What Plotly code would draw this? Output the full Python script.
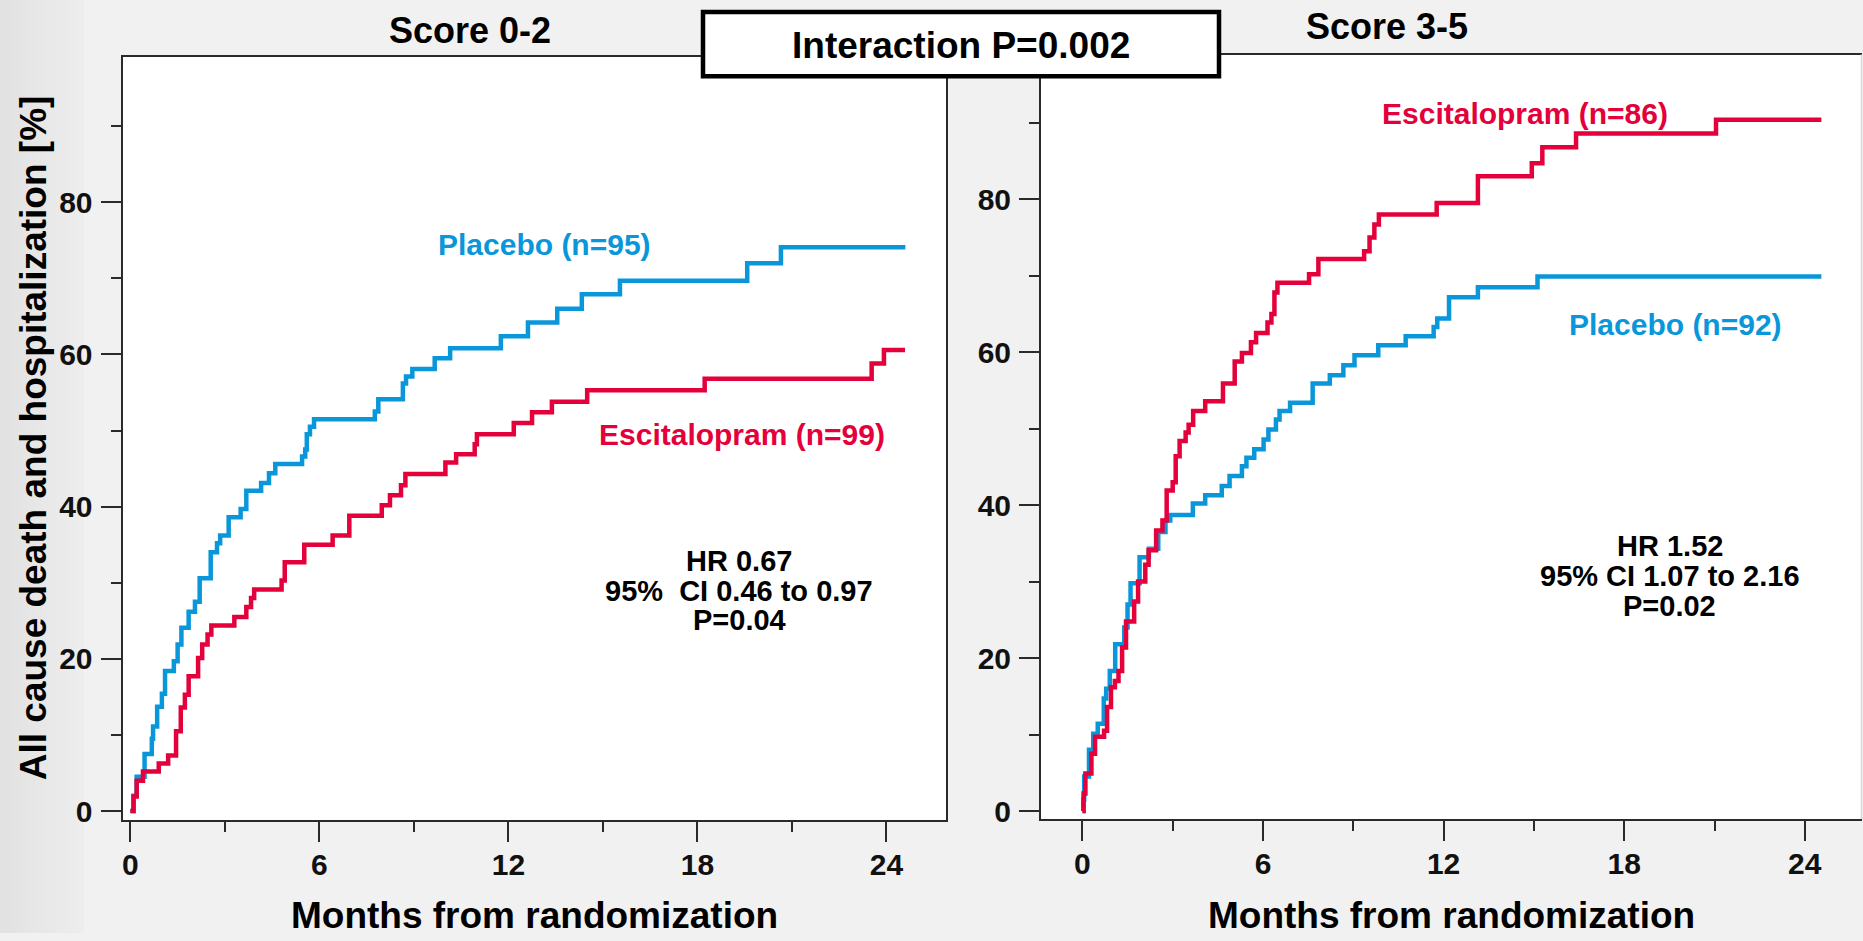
import plotly.graph_objects as go

W, H = 1863, 941

# ---- Kaplan-Meier step data (months, cumulative %) ----
# Score 0-2
s02_placebo_t = [0.1, 0.2, 0.45, 0.68, 0.72, 0.85, 1.0, 1.1, 1.38, 1.5, 1.62, 1.85, 2.05, 2.2,
                 2.55, 2.75, 2.85, 3.12, 3.5, 3.68, 4.15, 4.4, 4.6, 5.45, 5.55, 5.6, 5.7, 5.83,
                 7.76, 7.87, 8.65, 8.75, 8.95, 9.66, 10.15, 11.76, 12.62, 13.55, 14.33, 15.54,
                 19.58, 20.65]
s02_placebo_v = [2.0, 4.5, 7.5, 9.5, 11.1, 13.7, 15.4, 18.4, 19.7, 21.9, 24.1, 26.2, 27.5, 30.6,
                 34.0, 35.2, 36.2, 38.6, 39.7, 42.1, 43.1, 44.4, 45.6, 46.6, 47.5, 49.5, 50.5, 51.5,
                 52.5, 54.1, 56.2, 57.1, 58.1, 59.5, 60.8, 62.4, 64.2, 66.0, 67.9, 69.7,
                 72.0, 74.1]
s02_placebo_end = 24.6

s02_escit_t = [0.1, 0.2, 0.4, 0.9, 1.2, 1.45, 1.6, 1.73, 1.85, 2.15, 2.28, 2.45, 2.57, 3.3,
               3.68, 3.83, 3.93, 4.8, 4.9, 5.52, 6.42, 6.95, 7.98, 8.24, 8.59, 8.73, 10.0,
               10.34, 10.93, 11.0, 12.17, 12.75, 13.38, 14.5, 18.23, 23.53, 23.92]
s02_escit_v = [1.9, 4.0, 5.2, 6.25, 7.3, 10.5, 13.6, 15.3, 17.7, 20.1, 21.9, 23.2, 24.4, 25.5,
               26.8, 28.0, 29.1, 30.3, 32.7, 35.0, 36.2, 38.8, 40.2, 41.5, 42.8, 44.3, 45.8,
               46.9, 48.2, 49.5, 51.0, 52.4, 53.8, 55.3, 56.8, 58.8, 60.6]
s02_escit_end = 24.59

# Score 3-5
s35_placebo_t = [0.03, 0.06, 0.22, 0.36, 0.51, 0.71, 0.79, 0.91, 1.09, 1.39, 1.5, 1.6, 1.9, 2.21,
                 2.52, 2.76, 2.92, 3.67, 4.08, 4.63, 4.89, 5.3, 5.45, 5.71, 6.02, 6.18, 6.43, 6.55,
                 6.9, 7.65, 8.22, 8.67, 9.04, 9.83, 10.74, 11.67, 11.79, 12.18, 13.14, 15.12]
s35_placebo_v = [1.5, 4.5, 8.0, 10.1, 11.4, 14.7, 16.0, 18.3, 21.8, 24.0, 27.0, 29.8, 33.2, 34.3,
                 36.5, 38.0, 38.7, 40.2, 41.3, 42.5, 43.8, 45.1, 46.2, 47.3, 48.6, 49.9, 51.2, 52.3,
                 53.4, 55.9, 57.0, 58.3, 59.6, 60.9, 62.1, 63.3, 64.4, 67.2, 68.5, 69.9]
s35_placebo_end = 24.55

s35_escit_t = [0.04, 0.1, 0.3, 0.42, 0.72, 0.82, 0.95, 1.08, 1.2, 1.32, 1.45, 1.72, 1.85, 2.09,
               2.2, 2.45, 2.66, 2.8, 3.0, 3.1, 3.23, 3.43, 3.53, 3.68, 4.08, 4.67, 5.06, 5.3,
               5.6, 5.77, 6.15, 6.28, 6.38, 6.48, 7.53, 7.84, 9.36, 9.54, 9.7, 9.85, 11.77,
               13.14, 14.93, 15.28, 16.4, 21.05]
s35_escit_v = [2.3, 4.9, 7.5, 9.7, 10.5, 13.6, 16.2, 17.0, 18.3, 21.4, 24.8, 27.4, 30.0, 32.2,
               34.1, 36.7, 38.0, 41.9, 43.0, 46.4, 48.4, 49.5, 50.5, 52.3, 53.6, 55.9, 58.8, 59.9,
               61.3, 62.5, 63.9, 65.0, 67.8, 69.1, 70.2, 72.2, 73.2, 75.0, 76.7, 78.0, 79.5,
               83.0, 84.7, 86.8, 88.6, 90.4]
s35_escit_end = 24.55

panel_titles = ["Score 0-2", "Score 3-5"]
x_ticks = [0, 6, 12, 18, 24]
y_ticks = [0, 20, 40, 60, 80]
x_title = "Months from randomization"
y_title = "All cause death and hospitalization [%]"
interaction_text = "Interaction P=0.002"
hr_left = ["HR 0.67", "95%  CI 0.46 to 0.97", "P=0.04"]
hr_right = ["HR 1.52", "95% CI 1.07 to 2.16", "P=0.02"]

BLUE = "#0a97d9"
RED = "#e3003b"
FONT = "Liberation Sans, Arial, sans-serif"
AXIS = "#2a2a2a"


def px_x(p):
    return p / W


def px_y(p):
    return 1 - p / H


def km(times, values, end):
    xs = [0] + list(times) + [end]
    ys = [0] + list(values) + [values[-1]]
    return xs, ys


fig = go.Figure()

curves = [
    (s02_placebo_t, s02_placebo_v, s02_placebo_end, BLUE, "x", "y"),
    (s02_escit_t, s02_escit_v, s02_escit_end, RED, "x", "y"),
    (s35_placebo_t, s35_placebo_v, s35_placebo_end, BLUE, "x2", "y2"),
    (s35_escit_t, s35_escit_v, s35_escit_end, RED, "x2", "y2"),
]
for t, v, e, col, xa, ya in curves:
    xs, ys = km(t, v, e)
    fig.add_trace(go.Scatter(x=xs, y=ys, mode="lines", line=dict(color=col, width=4.5, shape="hv"),
                             xaxis=xa, yaxis=ya, showlegend=False, hoverinfo="skip"))

tickfont = dict(family=FONT, size=30, color="#111", weight="bold")


def xaxis(domain, rng, anchor, mirror):
    return dict(domain=domain, range=rng, anchor=anchor, tickmode="array", tickvals=x_ticks,
                ticks="outside", ticklen=20, tickwidth=2, tickcolor=AXIS, tickfont=tickfont,
                showline=True, linecolor=AXIS, linewidth=2, mirror=mirror, showgrid=False,
                zeroline=False, ticklabelstandoff=-3,
                minor=dict(tickmode="linear", tick0=0, dtick=3, ticks="outside", ticklen=10,
                           tickwidth=2, tickcolor=AXIS, showgrid=False))


def yaxis(domain, rng, anchor, mirror):
    return dict(domain=domain, range=rng, anchor=anchor, tickmode="array", tickvals=y_ticks,
                ticks="outside", ticklen=20, tickwidth=2, tickcolor=AXIS, tickfont=tickfont,
                showline=True, linecolor=AXIS, linewidth=2, mirror=mirror, showgrid=False,
                zeroline=False, ticklabelstandoff=2,
                minor=dict(tickmode="linear", tick0=0, dtick=10, ticks="outside", ticklen=10,
                           tickwidth=2, tickcolor=AXIS, showgrid=False))


fig.update_layout(
    width=W, height=H, margin=dict(l=0, r=0, t=0, b=0),
    paper_bgcolor="#f1f1f1", plot_bgcolor="white",
    xaxis=xaxis([px_x(122.5), px_x(946)], [-0.25, 25.89], "y", True),
    yaxis=yaxis([px_y(827), px_y(57)], [-1.17, 99.15], "x", True),
    xaxis2=xaxis([px_x(1041), px_x(1862)], [-1.375, 25.9], "y2", True),
    yaxis2=yaxis([px_y(826), px_y(55)], [-1.04, 98.93], "x2", False),
)

shapes = []
# soft darker band along the left edge of the slide
for i in range(12):
    g = 0xe2 + i
    shapes.append(dict(type="rect", xref="paper", yref="paper", layer="below",
                       x0=px_x(i * 7), x1=px_x(i * 7 + 7), y0=0, y1=1,
                       fillcolor=f"rgb({g},{g},{g})", line=dict(width=0)))
# faint right border of the second panel
shapes.append(dict(type="line", xref="paper", yref="paper", x0=px_x(1861.5), x1=px_x(1861.5),
                   y0=px_y(826), y1=px_y(55), line=dict(color="#d8d8d8", width=1.5)))
# interaction box
shapes.append(dict(type="rect", xref="paper", yref="paper", layer="above",
                   x0=px_x(703), x1=px_x(1219), y0=px_y(77), y1=px_y(12),
                   fillcolor="white", line=dict(color="black", width=4.5)))
fig.update_layout(shapes=shapes)

ann = []


def paper_text(text, x, y, size, color="black", angle=0):
    ann.append(dict(text=text, xref="paper", yref="paper", x=px_x(x), y=px_y(y),
                    xanchor="center", yanchor="middle", showarrow=False, textangle=angle,
                    font=dict(family=FONT, size=size, color=color, weight="bold")))


def data_text(text, x, y, xr, yr, size, color="black"):
    ann.append(dict(text=text, xref=xr, yref=yr, x=x, y=y, xanchor="center", yanchor="middle",
                    showarrow=False, font=dict(family=FONT, size=size, color=color, weight="bold")))


paper_text(panel_titles[0], 470, 31, 36)
paper_text(panel_titles[1], 1387, 27, 36)
paper_text(interaction_text, 961, 46, 37)
paper_text(x_title, 534, 923, 37)
paper_text(x_title, 1451, 923, 37)
paper_text(y_title, 33, 442, 37, angle=-90)

data_text("Placebo (n=95)", 13.13, 74.4, "x", "y", 30, BLUE)
data_text("Escitalopram (n=99)", 19.43, 49.5, "x", "y", 30, RED)
data_text("Escitalopram (n=86)", 14.7, 91.2, "x2", "y2", 30, RED)
data_text("Placebo (n=92)", 19.7, 63.6, "x2", "y2", 30, BLUE)

for line, yy in zip(hr_left, [32.83, 28.95, 25.05]):
    data_text(line, 19.32, yy, "x", "y", 29)
for line, yy in zip(hr_right, [34.66, 30.7, 26.8]):
    data_text(line, 19.52, yy, "x2", "y2", 29)

fig.update_layout(annotations=ann)
fig.write_html("out.html")
